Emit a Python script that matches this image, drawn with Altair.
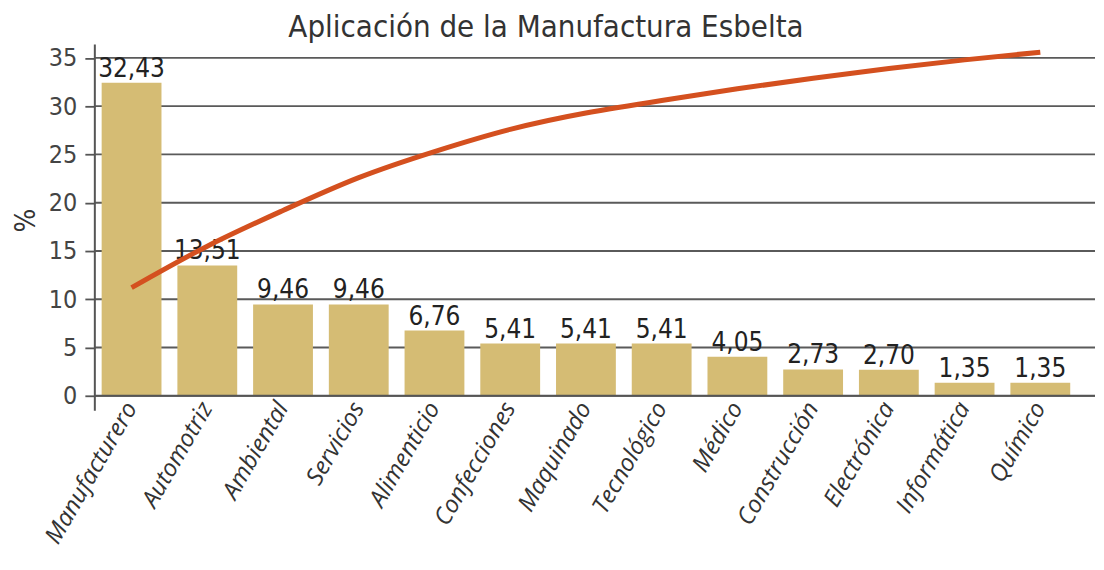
import altair as alt
import pandas as pd

categories = ["Manufacturero", "Automotriz", "Ambiental", "Servicios", "Alimenticio",
              "Confecciones", "Maquinado", "Tecnológico", "Médico", "Construcción",
              "Electrónica", "Informática", "Químico"]
values = [32.43, 13.51, 9.46, 9.46, 6.76, 5.41, 5.41, 5.41, 4.05, 2.73, 2.70, 1.35, 1.35]
trend = [11.2, 15.5, 19.2, 22.6, 25.3, 27.6, 29.3, 30.6, 31.8, 32.9, 33.9, 34.8, 35.6]
grid_values = [0, 5, 10, 15, 20, 25, 30, 35]

W = 984
H = 352
EXTRA = 18

df = pd.DataFrame({
    "cat": categories,
    "val": values,
    "trend": trend,
    "label": [f"{v:.2f}".replace(".", ",") for v in values],
})
grid_df = pd.DataFrame({"g": grid_values})

NARROW = "Liberation Sans Narrow, DejaVu Sans Condensed, Roboto, sans-serif"

xenc = alt.X("cat:N", sort=None, title=None,
             scale=alt.Scale(paddingInner=0.21, paddingOuter=0.09),
             axis=alt.Axis(labelAngle=-60, labelAlign="right", labelBaseline="middle",
                           labelFont="Open Sans", labelFontStyle="italic", labelFontSize=24,
                           labelColor="#333333", labelPadding=8, domain=False, ticks=False,
                           labelLimit=300))
yscale = alt.Scale(domain=[0, 36.4], nice=False)

grid = alt.Chart(grid_df).mark_rule(color="#5a5a5a", strokeWidth=1.8).encode(
    y=alt.Y("g:Q", scale=yscale,
            axis=alt.Axis(values=grid_values, title="%", titleFont=NARROW, titleFontSize=28,
                          titleFontWeight="normal", titleColor="#333333", titlePadding=8,
                          labelFont=NARROW, labelFontSize=25, labelColor="#444444",
                          labelPadding=8, tickSize=10, tickColor="#555555", tickWidth=1.8,
                          domain=False, grid=False)),
    x=alt.value(0),
    x2=alt.value(W + EXTRA),
)

bars = alt.Chart(df).mark_bar(color="#D5BC74").encode(
    x=xenc,
    y=alt.Y("val:Q", scale=yscale),
)

baseline = alt.Chart(pd.DataFrame({"g": [0]})).mark_rule(color="#555555", strokeWidth=2).encode(
    y=alt.Y("g:Q", scale=yscale),
    x=alt.value(0),
    x2=alt.value(W + EXTRA),
)

yaxis_line = alt.Chart(pd.DataFrame({"g": [0]})).mark_rule(color="#555555", strokeWidth=2).encode(
    x=alt.value(0),
    y=alt.value(0),
    y2=alt.value(H + 15),
)

texts = alt.Chart(df).mark_text(font=NARROW, fontSize=26, color="#222222",
                                baseline="alphabetic", dy=-6).encode(
    x=alt.X("cat:N", sort=None),
    y=alt.Y("val:Q", scale=yscale),
    text="label:N",
)

line = alt.Chart(df).mark_line(color="#D4501F", strokeWidth=5, interpolate="natural").encode(
    x=alt.X("cat:N", sort=None),
    y=alt.Y("trend:Q", scale=yscale),
)

chart = alt.layer(grid, bars, baseline, yaxis_line, texts, line).properties(
    width=W, height=H,
    title=alt.TitleParams("Aplicación de la Manufactura Esbelta", font=NARROW, fontSize=31,
                          fontWeight="normal", color="#333333", anchor="middle", dx=-40, offset=-2),
).configure(
    padding={"left": 4, "top": 3, "right": 0, "bottom": 0},
    view=alt.ViewConfig(strokeWidth=0),
)

chart.save("out.html", embed_options={"renderer": "svg", "actions": False})
